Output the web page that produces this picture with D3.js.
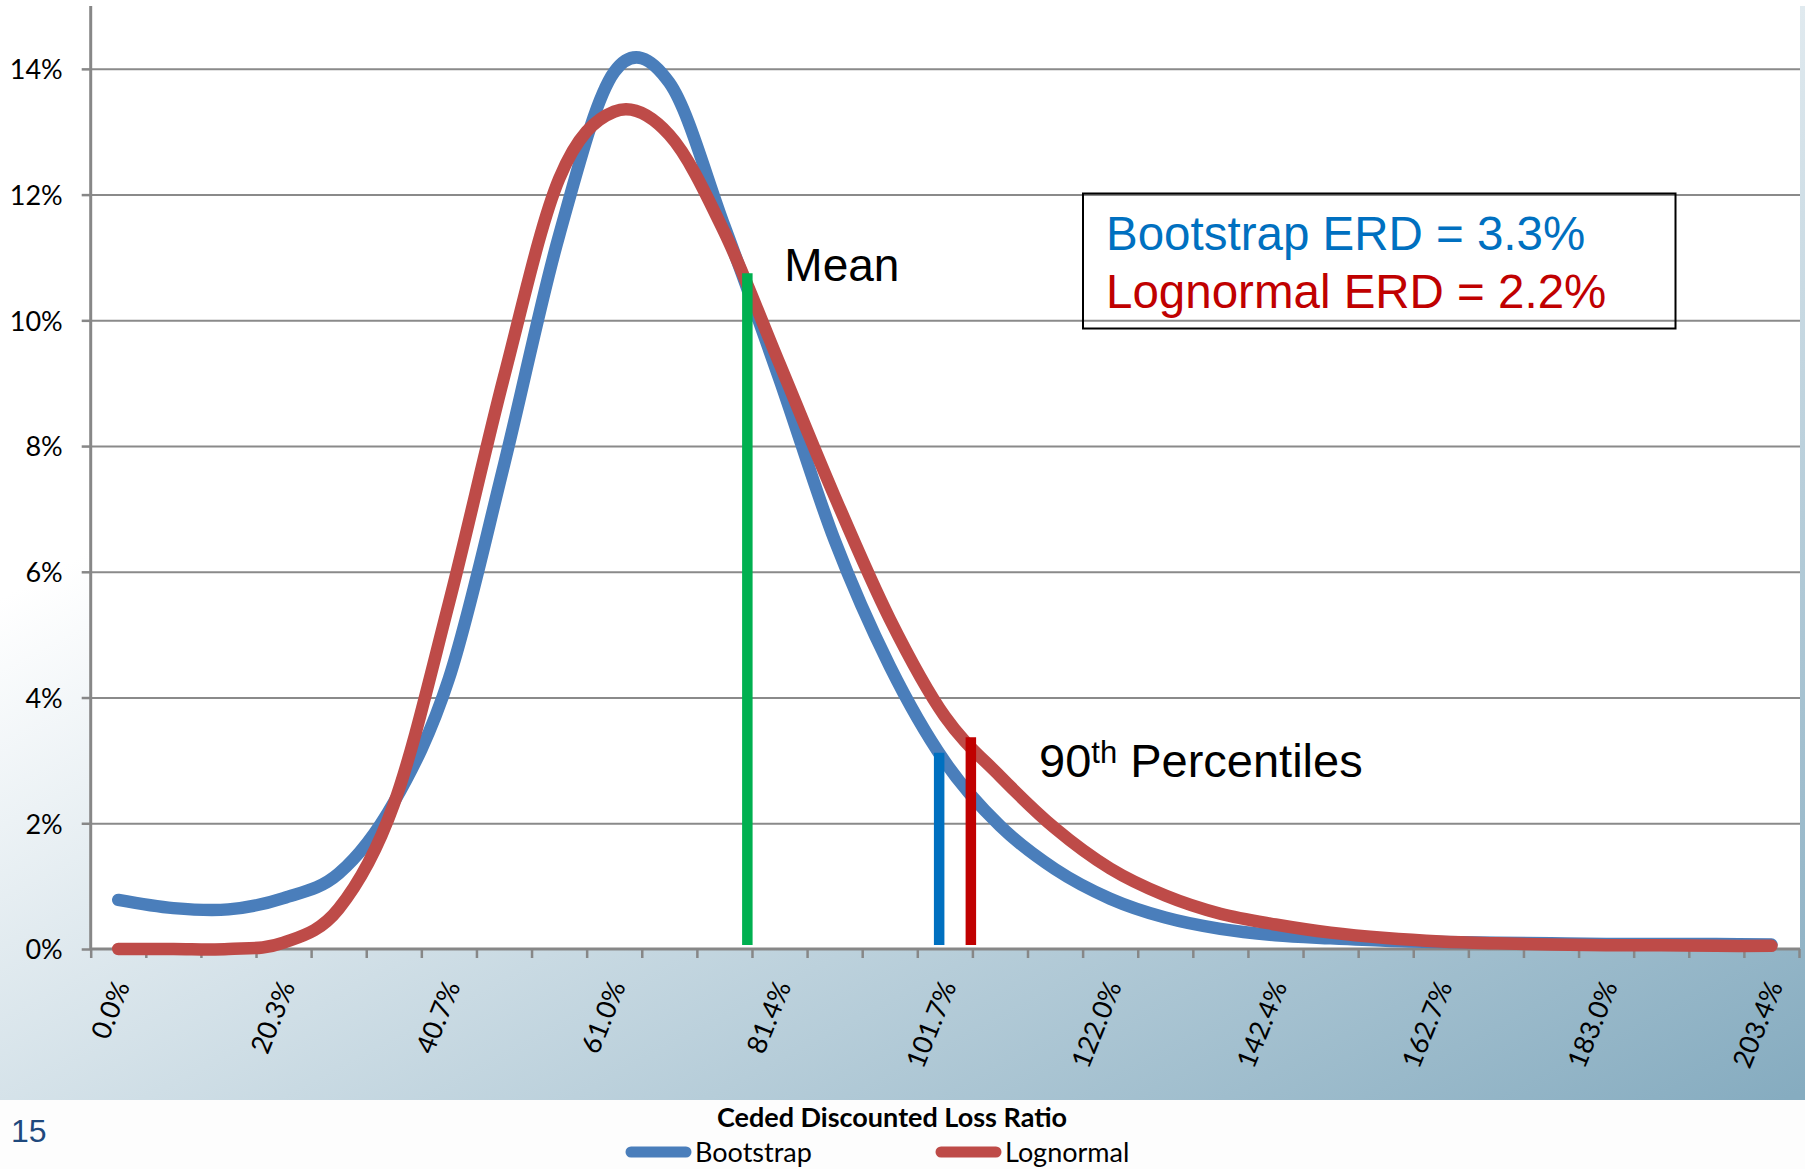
<!DOCTYPE html>
<html>
<head>
<meta charset="utf-8">
<script src="https://cdn.jsdelivr.net/npm/d3@7"></script>
<style>
  body { margin: 0; background: #fff; }
  svg { display: block; }
  .tick-label { font-family: Lato, "Open Sans", sans-serif; font-size: 27px; fill: #000; }
</style>
</head>
<body>
<div id="vis"></div>
<script>
const W = 1805, H = 1169;
const plot = {left: 90.7, right: 1800, top: 6, bottom: 949};

// x categories: ceded discounted loss ratio (%)
const lossRatio = [0, 6.78, 13.56, 20.34, 27.12, 33.9, 40.68, 47.46, 54.24, 61.02, 67.8,
    74.58, 81.36, 88.14, 94.92, 101.7, 108.48, 115.26, 122.04, 128.82, 135.6,
    142.38, 149.16, 155.94, 162.72, 169.5, 176.28, 183.06, 189.84, 196.62, 203.4];
const xTickLabels = ['0.0%', '20.3%', '40.7%', '61.0%', '81.4%', '101.7%',
    '122.0%', '142.4%', '162.7%', '183.0%', '203.4%'];

// density (%) per category
const bootstrap = [0.78, 0.65, 0.63, 0.81, 1.20, 2.33, 4.30, 7.70, 11.35, 13.95, 13.78,
    11.50, 9.06, 6.50, 4.50, 2.98, 1.96, 1.27, 0.80, 0.50, 0.32,
    0.22, 0.17, 0.13, 0.11, 0.10, 0.09, 0.08, 0.08, 0.08, 0.07];
const lognormal = [0, 0, 0, 0.10, 0.64, 2.30, 5.50, 9.10, 12.25, 13.32, 12.95,
    11.40, 9.31, 7.20, 5.25, 3.70, 2.75, 1.92, 1.28, 0.85, 0.56,
    0.39, 0.26, 0.175, 0.12, 0.09, 0.07, 0.06, 0.06, 0.05, 0.05];

const yTicks = [0, 2, 4, 6, 8, 10, 12, 14];

// marker lines: x = loss ratio, top = height in %
const meanMarker = {x: 77.4, top: 10.75, color: '#00B050'};
const p90Markers = [
    {name: 'Bootstrap', x: 101.0, top: 3.12, color: '#0070C0'},
    {name: 'Lognormal', x: 104.9, top: 3.37, color: '#C00000'}
];
const erdLines = [
    {text: 'Bootstrap ERD = 3.3%', color: '#0070C0'},
    {text: 'Lognormal ERD = 2.2%', color: '#C00000'}
];
const series = [
    {name: 'Bootstrap', values: bootstrap, color: '#4A7EBB'},
    {name: 'Lognormal', values: lognormal, color: '#BE4B48'}
];

const step = lossRatio[1] - lossRatio[0];

const svg = d3.select('#vis')
    .append('svg')
    .attr('width', W)
    .attr('height', H);

// slide background
const defs = svg.append('defs');
const grad = defs.append('linearGradient')
    .attr('id', 'bg')
    .attr('gradientUnits', 'userSpaceOnUse')
    .attr('x1', 249).attr('y1', 466)
    .attr('x2', 851).attr('y2', 1597);
grad.append('stop').attr('offset', 0).attr('stop-color', '#ffffff');
grad.append('stop').attr('offset', 1).attr('stop-color', '#86acc0');

svg.append('rect').attr('y', plot.top).attr('width', W).attr('height', 1100 - plot.top).attr('fill', 'url(#bg)');
svg.append('rect').attr('y', 1100).attr('width', W).attr('height', H - 1100).attr('fill', '#fdfdfd');

// plot area
svg.append('rect')
    .attr('x', plot.left).attr('y', plot.top)
    .attr('width', plot.right - plot.left).attr('height', plot.bottom - plot.top)
    .attr('fill', '#fff');

const xScale = d3.scaleLinear()
    .domain([lossRatio[0] - step / 2, lossRatio[lossRatio.length - 1] + step / 2])
    .range([plot.left, plot.right - 1]);

const yScale = d3.scaleLinear()
    .domain([0, 15])
    .range([plot.bottom, plot.top]);

// gridlines
svg.append('g')
    .attr('transform', `translate(${plot.left},0)`)
    .call(d3.axisLeft(yScale).tickValues(yTicks.slice(1)).tickSize(-(plot.right - plot.left)).tickFormat(''))
    .call(g => g.select('.domain').remove())
    .call(g => g.selectAll('.tick line').attr('stroke', '#8a8a8a').attr('stroke-width', 2));

// y axis
svg.append('g')
    .attr('transform', `translate(${plot.left},0)`)
    .call(d3.axisLeft(yScale).tickValues(yTicks).tickSize(9).tickPadding(19).tickFormat(d => d + '%'))
    .call(g => g.select('.domain').attr('stroke', '#878787').attr('stroke-width', 3)
        .attr('d', `M0,${plot.top}V${plot.bottom}`))
    .call(g => g.selectAll('.tick line').attr('stroke', '#878787').attr('stroke-width', 2.5))
    .call(g => g.selectAll('.tick text').attr('class', 'tick-label').attr('fill', '#000')
        .attr('font-family', null).attr('font-size', null).attr('dy', '0.36em'));

// x axis with ticks between categories
const boundaries = lossRatio.map(v => v - step / 2).concat([lossRatio[lossRatio.length - 1] + step / 2]);
svg.append('g')
    .attr('transform', `translate(0,${plot.bottom})`)
    .call(d3.axisBottom(xScale).tickValues(boundaries).tickSize(9).tickFormat(''))
    .call(g => g.select('.domain').attr('stroke', '#878787').attr('stroke-width', 3)
        .attr('d', `M${plot.left},0H${plot.right}`))
    .call(g => g.selectAll('.tick line').attr('stroke', '#878787').attr('stroke-width', 2.5));

svg.append('g')
    .selectAll('text')
    .data(xTickLabels)
    .join('text')
    .attr('class', 'tick-label')
    .attr('text-anchor', 'end')
    .attr('transform', (d, i) => `translate(${xScale(lossRatio[i * 3]) + 12},${plot.bottom + 37}) rotate(-68)`)
    .text(d => d);

// density curves
const line = d3.line()
    .x((d, i) => xScale(lossRatio[i]))
    .y(d => yScale(d))
    .curve(d3.curveCardinal);

svg.append('g')
    .selectAll('path')
    .data(series)
    .join('path')
    .attr('d', d => line(d.values))
    .attr('fill', 'none')
    .attr('stroke', d => d.color)
    .attr('stroke-width', 12.5)
    .attr('stroke-linecap', 'round')
    .attr('stroke-linejoin', 'round');

// mean and 90th percentile markers
svg.append('g')
    .selectAll('line')
    .data([meanMarker].concat(p90Markers))
    .join('line')
    .attr('x1', d => xScale(d.x)).attr('x2', d => xScale(d.x))
    .attr('y1', d => yScale(d.top)).attr('y2', yScale(0) - 4)
    .attr('stroke', d => d.color)
    .attr('stroke-width', 10.5);

// annotations
svg.append('text')
    .attr('x', xScale(meanMarker.x) + 37)
    .attr('y', 281)
    .attr('font-family', '"Liberation Sans", Arial, sans-serif')
    .attr('font-size', 46)
    .text('Mean');

const pct = svg.append('text')
    .attr('x', 1039)
    .attr('y', 777)
    .attr('font-family', '"Liberation Sans", Arial, sans-serif')
    .attr('font-size', 47);
pct.append('tspan').text('90');
pct.append('tspan').attr('font-size', 31).attr('dy', -14).text('th');
pct.append('tspan').attr('dy', 14).text(' Percentiles');

svg.append('rect')
    .attr('x', 1083).attr('y', 193.5)
    .attr('width', 592.5).attr('height', 135)
    .attr('fill', 'none')
    .attr('stroke', '#000')
    .attr('stroke-width', 2);

svg.append('g')
    .selectAll('text')
    .data(erdLines)
    .join('text')
    .attr('x', 1106)
    .attr('y', (d, i) => 250 + i * 58)
    .attr('font-family', '"Liberation Sans", Arial, sans-serif')
    .attr('font-size', 47.5)
    .attr('fill', d => d.color)
    .text(d => d.text);

// axis title
svg.append('text')
    .attr('x', 892)
    .attr('y', 1127)
    .attr('text-anchor', 'middle')
    .attr('font-family', 'Lato, "Open Sans", sans-serif')
    .attr('font-weight', 'bold')
    .attr('font-size', 27)
    .text('Ceded Discounted Loss Ratio');

// legend
const legend = svg.append('g')
    .selectAll('g')
    .data(series)
    .join('g')
    .attr('transform', (d, i) => `translate(${631 + i * 310},1152)`);
legend.append('line')
    .attr('x1', 0).attr('x2', 55)
    .attr('stroke', d => d.color)
    .attr('stroke-width', 11)
    .attr('stroke-linecap', 'round');
legend.append('text')
    .attr('x', 64)
    .attr('y', 9.5)
    .attr('font-family', 'Lato, "Open Sans", sans-serif')
    .attr('font-size', 27)
    .text(d => d.name);

// slide number
svg.append('text')
    .attr('x', 11)
    .attr('y', 1142)
    .attr('font-family', '"Liberation Sans", Arial, sans-serif')
    .attr('font-size', 32)
    .attr('fill', '#1F497D')
    .text('15');
</script>
</body>
</html>
